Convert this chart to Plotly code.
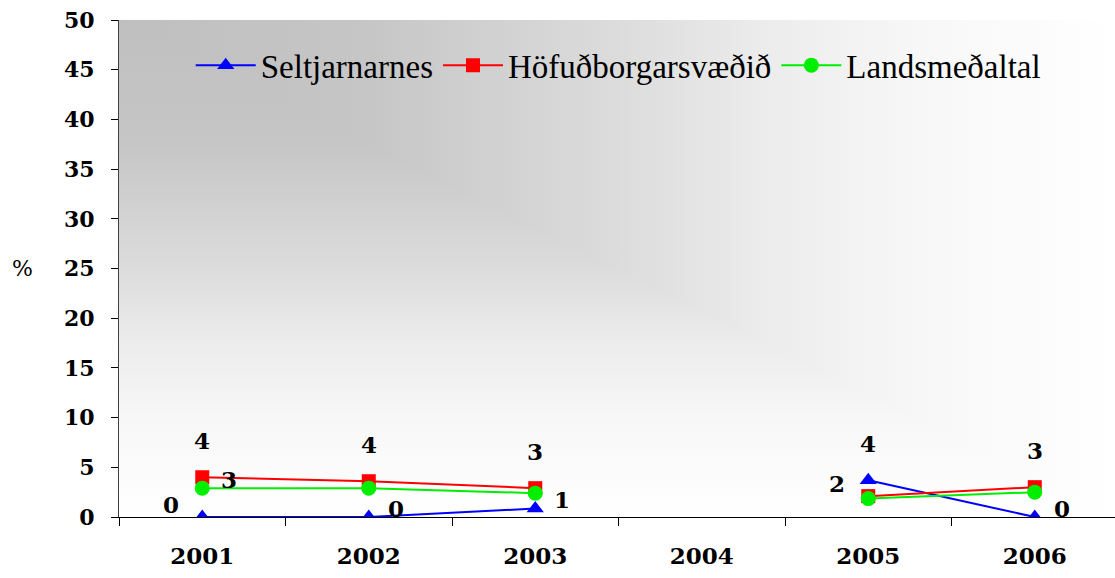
import base64
import plotly.graph_objects as go

# ---------------- data ----------------
years = ["2001", "2002", "2003", "2004", "2005", "2006"]
seltjarnarnes = [0.0, 0.0, 0.85, None, 3.7, 0.0]
hofudborgarsvaedid = [4.0, 3.6, 2.9, None, 2.1, 3.0]
landsmedaltal = [2.9, 2.9, 2.4, None, 1.85, 2.5]
series_names = ["Seltjarnarnes", "Höfuðborgarsvæðið", "Landsmeðaltal"]
y_ticks = [0, 5, 10, 15, 20, 25, 30, 35, 40, 45, 50]

# which data labels are shown, and where (style only)
selt_label_pos = ["left", "right", "right", None, "above", "right"]
hofud_label_pos = ["above", "above", "above", None, "left", "above"]
lands_label_pos = ["right", None, None, None, None, None]

SERIF = "DejaVu Serif"
SHIFTS = {"above": (0, 37), "left": (-31, 13), "right": (27, 9)}

# ---------------- background gradient (corner shading) ----------------
stops = ("<stop offset='0' stop-color='#bfbfbf'/>"
         "<stop offset='0.25' stop-color='#c6c6c6'/>"
         "<stop offset='0.5' stop-color='#dcdcdc'/>"
         "<stop offset='0.65' stop-color='#ececec'/>"
         "<stop offset='0.8' stop-color='#f7f7f7'/>"
         "<stop offset='1' stop-color='#ffffff'/>")
svg = ("<svg xmlns='http://www.w3.org/2000/svg' width='1000' height='1000' "
       "viewBox='0 0 1 1' preserveAspectRatio='none'><defs>"
       "<linearGradient id='h' gradientUnits='userSpaceOnUse' x1='0' y1='0' x2='1' y2='0'>" + stops +
       "</linearGradient>"
       "<linearGradient id='v' gradientUnits='userSpaceOnUse' x1='0' y1='0' x2='0' y2='1'>" + stops +
       "</linearGradient></defs>"
       "<rect x='0' y='0' width='1' height='1' fill='url(#v)'/>"
       "<polygon points='0,0 1,0 1,1' fill='url(#h)'/>"
       "</svg>")
svg_uri = "data:image/svg+xml;base64," + base64.b64encode(svg.encode()).decode()

fig = go.Figure()

styles = [
    dict(color="#0000ff", symbol="triangle-up", size=15),
    dict(color="#ff0000", symbol="square", size=14),
    dict(color="#00ee00", symbol="circle", size=15),
]
all_values = [seltjarnarnes, hofudborgarsvaedid, landsmedaltal]
all_pos = [selt_label_pos, hofud_label_pos, lands_label_pos]

for name, vals, st in zip(series_names, all_values, styles):
    fig.add_trace(go.Scatter(
        x=years, y=vals, name=name, mode="lines+markers",
        line=dict(color=st["color"], width=2),
        marker=dict(color=st["color"], symbol=st["symbol"], size=st["size"]),
        connectgaps=False,
    ))

annotations = []
for vals, poss in zip(all_values, all_pos):
    for i, (v, p) in enumerate(zip(vals, poss)):
        if v is None or p is None:
            continue
        dx, dy = SHIFTS[p]
        annotations.append(dict(
            x=i, y=v, xref="x", yref="y", text=f"{round(v):.0f}",
            showarrow=False, xshift=dx, yshift=dy, xanchor="center", yanchor="middle",
            font=dict(family=SERIF, size=23, color="black", weight="bold"),
        ))

annotations.append(dict(
    x=-0.097, y=25, xref="paper", yref="y", text="%", showarrow=False,
    xanchor="center", yanchor="middle",
    font=dict(family=SERIF, size=22, color="black"),
))

fig.update_layout(
    width=1115, height=578,
    margin=dict(l=119, r=0, t=20, b=61),
    paper_bgcolor="white",
    plot_bgcolor="rgba(0,0,0,0)",
    images=[dict(source=svg_uri, xref="paper", yref="paper", x=0, y=1,
                 sizex=1, sizey=1, xanchor="left", yanchor="top",
                 sizing="stretch", layer="below")],
    showlegend=True,
    legend=dict(orientation="h", x=0.072, xanchor="left", y=0.909, yanchor="middle",
                bgcolor="rgba(0,0,0,0)",
                font=dict(family="Liberation Serif", size=33, color="black"),
                itemwidth=60, tracegroupgap=0),
    annotations=annotations,
    xaxis=dict(type="category", categoryorder="array", categoryarray=years,
               range=[-0.5, 5.482], tickson="boundaries", ticks="outside", ticklen=8,
               tickcolor="black", showline=True, linecolor="black", linewidth=1,
               showgrid=False, zeroline=False, ticklabelstandoff=18,
               tickfont=dict(family=SERIF, size=23, color="black", weight="bold")),
    yaxis=dict(range=[0, 50], tickvals=y_ticks, ticks="outside", ticklen=7,
               tickcolor="black", showline=True, linecolor="#404040", linewidth=1,
               showgrid=False, zeroline=False, ticklabelstandoff=12,
               tickfont=dict(family=SERIF, size=22, color="black", weight="bold")),
)

fig.write_html("out.html",
               config={"displayModeBar": False},
               post_script="document.body.style.margin='0';"
                           "document.documentElement.style.overflow='hidden';")
